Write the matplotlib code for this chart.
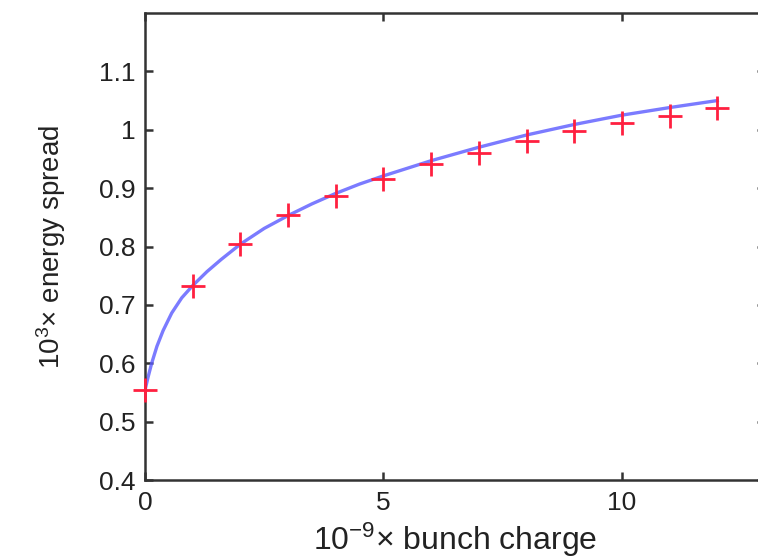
import numpy as np
import matplotlib
matplotlib.use("Agg")
import matplotlib.pyplot as plt

plt.rcParams['font.family'] = ['Liberation Sans', 'DejaVu Sans']
plt.rcParams['mathtext.fontset'] = 'custom'
plt.rcParams['mathtext.rm'] = 'Liberation Sans'
plt.rcParams['mathtext.it'] = 'Liberation Sans:italic'

# measured points (red crosses)
charge = [0, 1, 2, 3, 4, 5, 6, 7, 8, 9, 10, 11, 12]
spread = [0.555, 0.733, 0.804, 0.854, 0.886, 0.915, 0.941, 0.961,
          0.981, 0.998, 1.011, 1.024, 1.037]

# fitted curve (blue line)
fit_x = [0, 0.02, 0.07, 0.14, 0.25, 0.38, 0.56, 0.77, 1.0, 1.3, 1.6,
         2.0, 2.5, 3, 3.5, 4, 4.5, 5, 6, 7, 8, 9, 10, 11, 12]
fit_y = [0.553, 0.561, 0.578, 0.600, 0.629, 0.656, 0.686, 0.712, 0.733,
         0.757, 0.778, 0.804, 0.831, 0.853, 0.873, 0.891, 0.907, 0.921,
         0.947, 0.970, 0.991, 1.009, 1.025, 1.038, 1.050]

yticks = [0.4, 0.5, 0.6, 0.7, 0.8, 0.9, 1.0, 1.1]
ytick_labels = ["0.4", "0.5", "0.6", "0.7", "0.8", "0.9", "1", "1.1"]
xticks = [0, 5, 10]

fig = plt.figure(figsize=(7.58, 5.59), dpi=100)
ax = fig.add_axes([145 / 758, 79 / 559, 620 / 758, 467 / 559])

ax.plot(fit_x, fit_y, '-', color='#5a5aff', linewidth=2.4, alpha=0.8,
        solid_joinstyle='round')
ax.plot(charge, spread, '+', color='#ff2040', markersize=17, markeredgewidth=2.0,
        clip_on=False, zorder=5)

ax.set_xlim(0, 13)
ax.set_ylim(0.4, 1.2)
ax.set_xticks(xticks)
ax.set_xticklabels([str(t) for t in xticks])
ax.set_yticks(yticks)
ax.set_yticklabels(ytick_labels)

for s in ax.spines.values():
    s.set_linewidth(1.8)
    s.set_color('#333333')
ax.tick_params(direction='in', length=6, width=1.8, top=True, right=True,
               labelsize=19, colors='#333333', labelcolor='#222222')
ax.tick_params(axis='y', pad=7)
ax.tick_params(axis='x', pad=8)

ax.set_xlabel(r'$\mathregular{10^{-9}}$× bunch charge', fontsize=23,
              color='#222222', labelpad=4)
ax.set_ylabel(r'$\mathregular{10^{3}}$× energy spread', fontsize=20,
              color='#222222', labelpad=22)

fig.savefig('out.png', dpi=100)
